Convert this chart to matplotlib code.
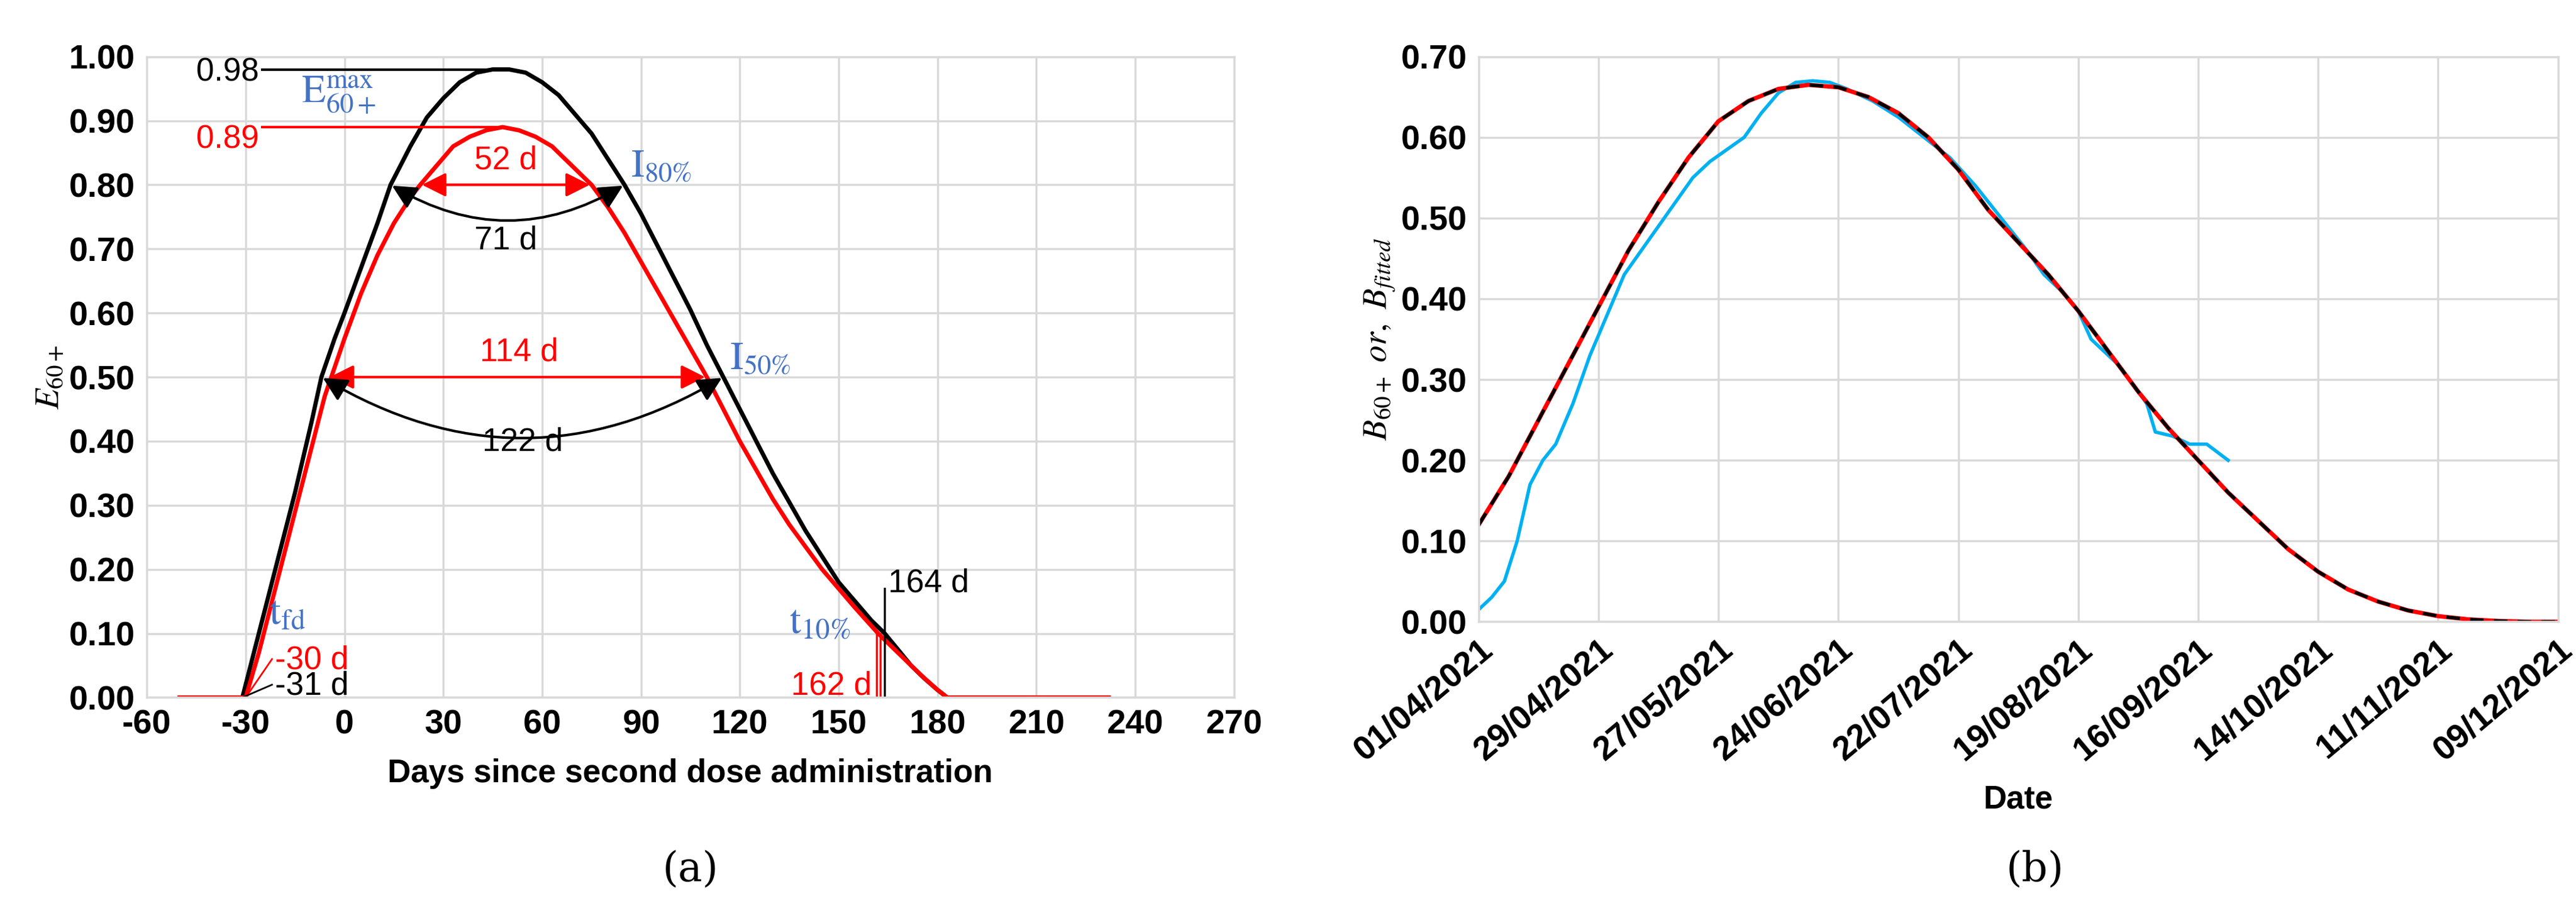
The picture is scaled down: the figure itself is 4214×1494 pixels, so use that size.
import matplotlib.pyplot as plt
import matplotlib.dates as mdates
import numpy as np
import datetime as dt

# panel (a): efficacy curves, days since second dose
black_days = [-50, -31, -28, -24, -20, -15, -10, -7, -3, 0, 5, 10, 14, 20, 25, 30, 35, 40, 45, 50, 55, 60, 65, 70, 75, 80, 85, 90, 95, 100, 105, 110, 115, 120, 125, 130, 135, 140, 145, 150, 155, 160, 164, 168, 172, 176, 180, 183, 232]
black_vals = [0, 0, 0.06, 0.14, 0.22, 0.32, 0.43, 0.50, 0.56, 0.60, 0.67, 0.74, 0.80, 0.86, 0.905, 0.935, 0.96, 0.975, 0.98, 0.98, 0.975, 0.96, 0.94, 0.91, 0.88, 0.84, 0.80, 0.755, 0.705, 0.655, 0.605, 0.55, 0.50, 0.45, 0.40, 0.35, 0.305, 0.26, 0.22, 0.18, 0.15, 0.12, 0.10, 0.075, 0.05, 0.03, 0.012, 0, 0]
red_days = [-50, -30, -26, -22, -18, -14, -10, -6, -4, 0, 5, 10, 15, 20, 23, 28, 33, 38, 43, 48, 53, 58, 63, 68, 72, 75, 80, 85, 90, 95, 100, 105, 110, 115, 120, 125, 130, 135, 140, 145, 150, 155, 162, 166, 170, 175, 180, 183, 232]
red_vals = [0, 0, 0.07, 0.15, 0.23, 0.31, 0.39, 0.47, 0.50, 0.56, 0.63, 0.69, 0.74, 0.78, 0.80, 0.83, 0.86, 0.875, 0.885, 0.89, 0.885, 0.875, 0.86, 0.835, 0.815, 0.80, 0.765, 0.725, 0.68, 0.635, 0.59, 0.545, 0.50, 0.45, 0.40, 0.355, 0.31, 0.27, 0.235, 0.20, 0.17, 0.14, 0.10, 0.08, 0.06, 0.035, 0.012, 0, 0]

# panel (b): observed and fitted, day offsets from 01/04/2021
fit_days = [0, 7, 14, 21, 28, 35, 42, 49, 56, 63, 70, 77, 84, 91, 98, 105, 112, 119, 126, 133, 140, 147, 154, 161, 168, 175, 182, 189, 196, 203, 210, 217, 224, 231, 238, 245, 252]
fit_vals = [0.12, 0.18, 0.25, 0.32, 0.39, 0.46, 0.52, 0.575, 0.62, 0.645, 0.66, 0.665, 0.662, 0.65, 0.63, 0.60, 0.56, 0.51, 0.47, 0.43, 0.385, 0.335, 0.285, 0.24, 0.20, 0.16, 0.125, 0.09, 0.062, 0.04, 0.025, 0.014, 0.007, 0.003, 0.001, 0, 0]
obs_days = [0, 3, 6, 9, 12, 15, 18, 22, 26, 30, 34, 38, 42, 46, 50, 54, 58, 62, 66, 70, 74, 78, 82, 86, 92, 98, 104, 110, 116, 122, 128, 132, 136, 140, 143, 146, 149, 152, 156, 158, 162, 166, 170, 175]
obs_vals = [0.015, 0.03, 0.05, 0.10, 0.17, 0.20, 0.22, 0.27, 0.33, 0.38, 0.43, 0.46, 0.49, 0.52, 0.55, 0.57, 0.585, 0.60, 0.63, 0.655, 0.668, 0.67, 0.668, 0.66, 0.645, 0.625, 0.60, 0.575, 0.54, 0.50, 0.46, 0.43, 0.41, 0.385, 0.35, 0.335, 0.32, 0.30, 0.27, 0.235, 0.23, 0.22, 0.22, 0.20]

BLUE = '#4472C4'
GRID = '#d9d9d9'
start = dt.date(2021, 4, 1)

plt.rcParams['font.family'] = ['Liberation Sans Narrow', 'Liberation Sans', 'DejaVu Sans']
plt.rcParams['axes.unicode_minus'] = False
plt.rcParams['mathtext.fontset'] = 'stix'
fig = plt.figure(figsize=(42.14, 14.94), dpi=100)

# ---- (a)
ax = fig.add_axes([0.057, 0.236, 0.422, 0.702])
ax.plot(black_days, black_vals, color='black', lw=5)
ax.plot(red_days, red_vals, color='red', lw=5)
ax.set_xlim(-60, 270)
ax.set_ylim(0, 1)
ax.set_xticks(range(-60, 271, 30))
ax.set_yticks(np.arange(0, 1.01, 0.1))
ax.yaxis.set_major_formatter(plt.FuncFormatter(lambda v, p: '%.2f' % v))
ax.grid(color=GRID, lw=2.5)
for s in ax.spines.values():
    s.set_color(GRID)
    s.set_linewidth(2.5)
ax.tick_params(length=0, labelsize=40, pad=14)
for t in ax.get_xticklabels() + ax.get_yticklabels():
    t.set_fontweight('bold')
ax.set_xlabel('Days since second dose administration', fontsize=38, fontweight='bold', labelpad=20)
ax.set_ylabel(r'$\mathbf{\it{E}_{60+}}$', fontsize=40)

ax.plot([-25, 48], [0.98, 0.98], color='black', lw=3)
ax.plot([-25, 48], [0.89, 0.89], color='red', lw=3)
ax.text(-26, 0.975, '0.98', fontsize=38, ha='right', va='center')
ax.text(-26, 0.87, '0.89', fontsize=38, ha='right', va='center', color='red')
ax.text(-13, 0.94, r'$\mathrm{E}_{60+}^{\max}$', fontsize=46, color=BLUE, ha='left', va='center')

arr_r = dict(arrowstyle='<|-|>', color='red', lw=3, mutation_scale=60)
ax.annotate('', xy=(23, 0.8), xytext=(75, 0.8), arrowprops=arr_r)
ax.text(49, 0.825, '52 d', color='red', fontsize=38, ha='center')
ax.annotate('', xy=(-5, 0.5), xytext=(110, 0.5), arrowprops=arr_r)
ax.text(53, 0.525, '114 d', color='red', fontsize=38, ha='center')
arr_k = dict(arrowstyle='<|-|>', color='black', lw=3, mutation_scale=60, connectionstyle='arc3,rad=-0.3')
ax.annotate('', xy=(14, 0.8), xytext=(85, 0.8), arrowprops=arr_k)
ax.text(49, 0.70, '71 d', fontsize=38, ha='center')
ax.annotate('', xy=(-7, 0.5), xytext=(115, 0.5), arrowprops=arr_k)
ax.text(54, 0.385, '122 d', fontsize=38, ha='center')
ax.text(87, 0.80, r'$\mathrm{I}_{80\%}$', fontsize=46, color=BLUE, va='bottom')
ax.text(117, 0.50, r'$\mathrm{I}_{50\%}$', fontsize=46, color=BLUE, va='bottom')
ax.text(-23, 0.115, r'$\mathrm{t}_{\mathrm{fd}}$', fontsize=48, color=BLUE)
ax.text(-21, 0.045, '-30 d', fontsize=38, color='red')
ax.text(-21, 0.005, '-31 d', fontsize=38)
ax.plot([-30, -22], [0, 0.06], color='red', lw=2)
ax.plot([-31, -22], [0, 0.02], color='black', lw=2)
ax.text(135, 0.10, r'$\mathrm{t}_{10\%}$', fontsize=48, color=BLUE)
ax.plot([164, 164], [0, 0.17], color='black', lw=2.5)
ax.plot([161.5, 161.5], [0, 0.10], color='red', lw=2.5)
ax.plot([162.7, 162.7], [0, 0.10], color='red', lw=2.5)
ax.text(165, 0.165, '164 d', fontsize=38)
ax.text(160, 0.005, '162 d', fontsize=38, color='red', ha='right')
fig.text(0.268, 0.035, '(a)', fontsize=48, ha='center', family='serif')

# ---- (b)
bx = fig.add_axes([0.574, 0.319, 0.419, 0.619])
fit_x = [start + dt.timedelta(days=d) for d in fit_days]
obs_x = [start + dt.timedelta(days=d) for d in obs_days]
bx.plot(obs_x, obs_vals, color='#00B0F0', lw=4)
bx.plot(fit_x, fit_vals, color='red', lw=5)
bx.plot(fit_x, fit_vals, color='black', lw=4, ls=(0, (4, 3)))
ticks = [start + dt.timedelta(days=28 * i) for i in range(10)]
bx.set_xticks(ticks)
bx.xaxis.set_major_formatter(mdates.DateFormatter('%d/%m/%Y'))
bx.set_xlim(ticks[0], ticks[-1])
bx.set_ylim(0, 0.7)
bx.set_yticks(np.arange(0, 0.71, 0.1))
bx.yaxis.set_major_formatter(plt.FuncFormatter(lambda v, p: '%.2f' % v))
bx.grid(color=GRID, lw=2.5)
for s in bx.spines.values():
    s.set_color(GRID)
    s.set_linewidth(2.5)
bx.tick_params(length=0, labelsize=40, pad=14)
for t in bx.get_xticklabels():
    t.set_rotation(40)
    t.set_ha('right')
    t.set_rotation_mode('anchor')
for t in bx.get_xticklabels() + bx.get_yticklabels():
    t.set_fontweight('bold')
bx.set_xlabel('Date', fontsize=38, fontweight='bold', labelpad=20)
bx.set_ylabel(r'$\mathbf{\it{B}_{60+}}$ $\mathbf{\it{or,}}$ $\mathbf{\it{B}_{fitted}}$', fontsize=40)
fig.text(0.79, 0.035, '(b)', fontsize=48, ha='center', family='serif')

fig.savefig('out.png')
